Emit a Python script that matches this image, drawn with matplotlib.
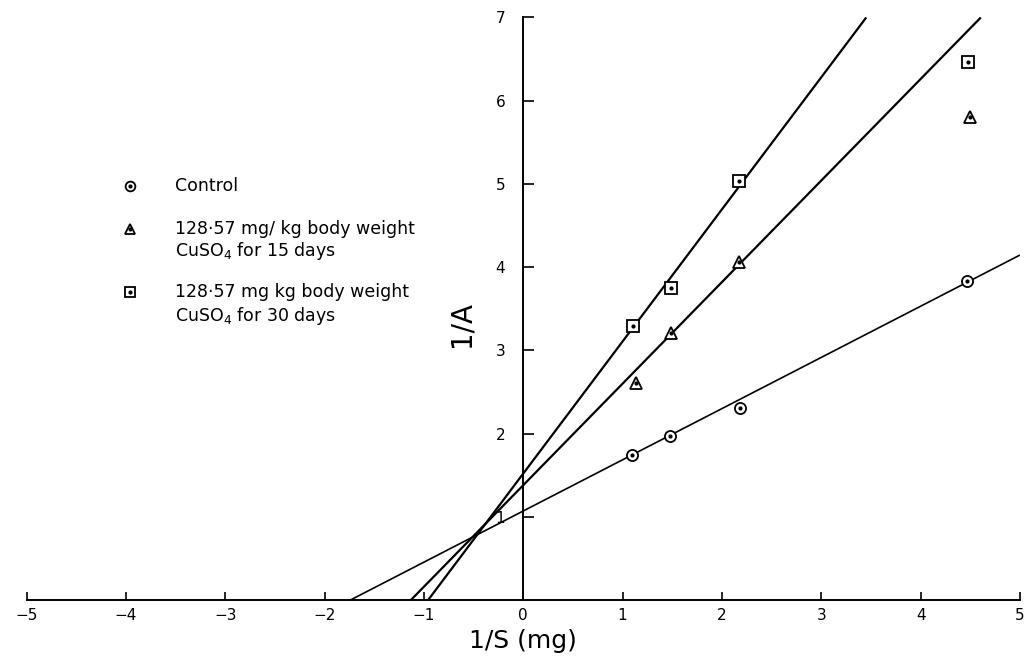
import matplotlib
matplotlib.use("Agg")
import matplotlib.pyplot as plt
import numpy as np

# 1/S values and 1/A values
x_control = [1.09, 1.48, 2.18, 4.47]
y_control = [1.74, 1.97, 2.31, 3.83]
x_15 = [1.13, 1.49, 2.17, 4.50]
y_15 = [2.61, 3.21, 4.06, 5.80]
x_30 = [1.10, 1.49, 2.17, 4.48]
y_30 = [3.29, 3.75, 5.03, 6.47]

# hand-drawn fit lines: (slope, intercept)
fit_control = (0.615, 1.07)
fit_15 = (1.22, 1.38)
fit_30 = (1.587, 1.52)

legend_labels = [["Control"],
                 ["128·57 mg/ kg body weight", "CuSO$_4$ for 15 days"],
                 ["128·57 mg kg body weight", "CuSO$_4$ for 30 days"]]

plt.rcParams.update({'font.family': 'DejaVu Sans'})

fig = plt.figure(figsize=(10.24, 6.59), dpi=100)
ax = fig.add_axes([0.026, 0.0895, 0.97, 0.884])
ax.set_xlim(-5, 5)
ax.set_ylim(0, 7)

series = [(x_control, y_control, fit_control, 'o', 1.2),
          (x_15, y_15, fit_15, '^', 1.6),
          (x_30, y_30, fit_30, 's', 1.6)]

for xs, ys, (m, b), mk, lw in series:
    x0 = -b / m
    x1 = min(5, (7 - b) / m)
    xx = np.array([x0, x1])
    ax.plot(xx, m * xx + b, color="black", lw=lw, solid_capstyle="butt")
    ax.plot(xs, ys, ls="none", marker=mk, ms=8, mfc="white", mec="black", mew=1.3, zorder=3)
    ax.plot(xs, ys, ls="none", marker='o', ms=2, color="black", zorder=4)

# spines through the origin
ax.spines['left'].set_position(('data', 0))
ax.spines['bottom'].set_position(('data', 0))
ax.spines['right'].set_visible(False)
ax.spines['top'].set_visible(False)
ax.spines['left'].set_linewidth(1.4)
ax.spines['bottom'].set_linewidth(1.4)

ax.set_xticks(range(-5, 6))
ax.set_yticks(range(1, 8))
ax.tick_params(axis='x', direction='in', length=6, width=1.2, pad=6, labelsize=11)
ax.tick_params(axis='y', direction='in', length=8, width=1.2, pad=13, labelsize=11)

ax.set_ylabel("1/A", fontsize=20, rotation=90)
ax.yaxis.set_label_coords(0.452, 0.473)
ax.set_xlabel("1/S (mg)", fontsize=18)
ax.xaxis.set_label_coords(0.5, -0.05)

# legend drawn by hand
leg_x_mark = 0.104
leg_x_text = 0.149
leg_y = [[0.711], [0.637, 0.599], [0.528, 0.488]]
for mk, lines, ys in zip(['o', '^', 's'], legend_labels, leg_y):
    ax.plot([leg_x_mark], [ys[0]], transform=ax.transAxes, ls="none", marker=mk, ms=7,
            mfc="white", mec="black", mew=1.3, clip_on=False)
    ax.plot([leg_x_mark], [ys[0]], transform=ax.transAxes, ls="none", marker='o', ms=2,
            color="black", clip_on=False)
    for lab, yy in zip(lines, ys):
        ax.text(leg_x_text, yy, lab, transform=ax.transAxes, fontsize=12.5, va="center")

fig.savefig("out.png", dpi=100)
